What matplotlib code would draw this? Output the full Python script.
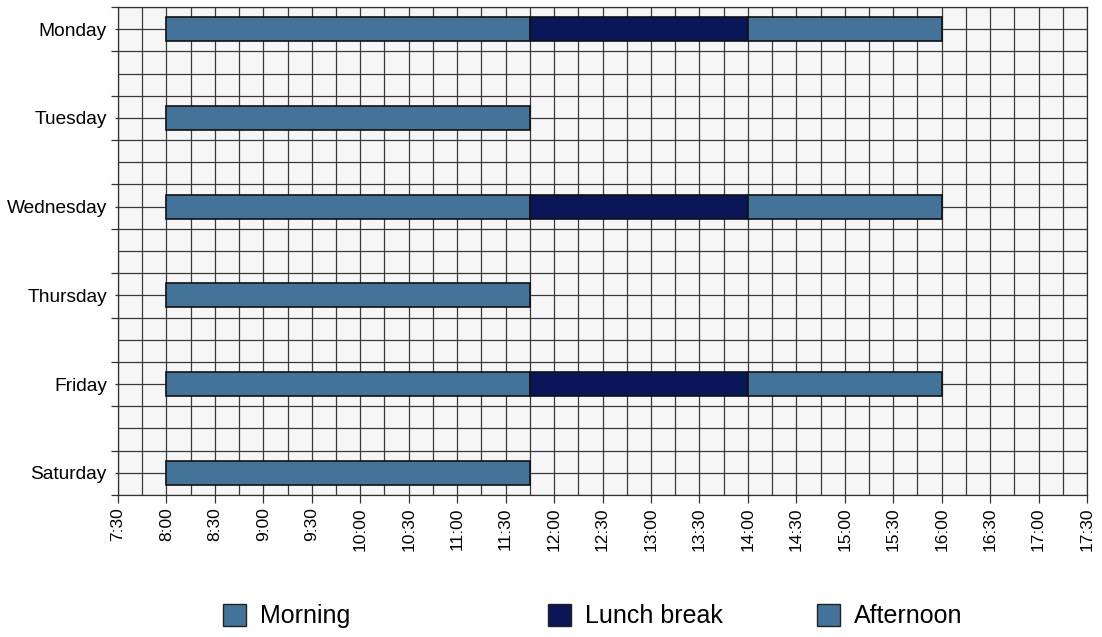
import matplotlib
matplotlib.use("Agg")
import matplotlib.pyplot as plt
from matplotlib.patches import Patch
from matplotlib.ticker import MultipleLocator, FixedLocator

plt.rcParams['font.family'] = ['Liberation Sans', 'DejaVu Sans']

days = ["Monday", "Tuesday", "Wednesday", "Thursday", "Friday", "Saturday"]
# times in hours
morning_start = [8.0, 8.0, 8.0, 8.0, 8.0, 8.0]
morning_end = [11.75, 11.75, 11.75, 11.75, 11.75, 11.75]
lunch_start = [11.75, None, 11.75, None, 11.75, None]
lunch_end = [14.0, None, 14.0, None, 14.0, None]
afternoon_start = [14.0, None, 14.0, None, 14.0, None]
afternoon_end = [16.0, None, 16.0, None, 16.0, None]
series_names = ["Morning", "Lunch break", "Afternoon"]
tick_hours = [7.5 + 0.5 * i for i in range(21)]
tick_labels = [f"{int(h)}:{int(round((h % 1) * 60)):02d}" for h in tick_hours]

c_morning = "#44739a"
c_lunch = "#0b1659"
c_afternoon = "#44739a"

fig = plt.figure(figsize=(11.02, 6.37), dpi=100, facecolor="white")
ax = fig.add_axes([118 / 1102, 1 - 495 / 637, (1087 - 118) / 1102, (495 - 7) / 637])
ax.set_facecolor("#f6f6f6")

bar_h = 0.27
ys = list(range(len(days)))
for i, y in enumerate(ys):
    ax.barh(y, morning_end[i] - morning_start[i], left=morning_start[i], height=bar_h,
            color=c_morning, edgecolor="#111111", linewidth=1.2, zorder=3)
    if lunch_start[i] is not None:
        ax.barh(y, lunch_end[i] - lunch_start[i], left=lunch_start[i], height=bar_h,
                color=c_lunch, edgecolor="#111111", linewidth=1.2, zorder=3)
    if afternoon_start[i] is not None:
        ax.barh(y, afternoon_end[i] - afternoon_start[i], left=afternoon_start[i], height=bar_h,
                color=c_afternoon, edgecolor="#111111", linewidth=1.2, zorder=3)

ax.set_xlim(7.5, 17.5)
ax.set_ylim(len(days) - 1 + 0.25, -0.25)

ax.xaxis.set_major_locator(FixedLocator(tick_hours))
ax.set_xticklabels(tick_labels, rotation=90, fontsize=12.5)
ax.xaxis.set_minor_locator(MultipleLocator(0.25))
ax.tick_params(axis="x", which="major", length=6, width=0.9, color="#333333", pad=3)
ax.tick_params(axis="x", which="minor", length=0)

ax.set_yticks(ys)
ax.set_yticklabels(days, fontsize=13.8)
ax.yaxis.set_minor_locator(FixedLocator([y + d for y in ys for d in (-0.25, 0.25)]))
ax.tick_params(axis="y", which="major", length=2, width=0.9, color="#333333", pad=6)
ax.tick_params(axis="y", which="minor", length=5, width=0.9, color="#333333")

# full grid every 15 min and every quarter day
for xv in [7.5 + 0.25 * k for k in range(41)]:
    ax.axvline(xv, color="#3a3a3a", linewidth=0.9, zorder=1)
for yv in [-0.25 + 0.25 * k for k in range(4 * len(days) + 1)]:
    ax.axhline(yv, color="#3a3a3a", linewidth=0.9, zorder=1)

for s in ax.spines.values():
    s.set_color("#333333")
    s.set_linewidth(0.9)

colors = [c_morning, c_lunch, c_afternoon]
xs = [223 / 1102, 548 / 1102, 817 / 1102]
for name, col, x in zip(series_names, colors, xs):
    leg = fig.legend(handles=[Patch(facecolor=col, edgecolor="#222222", linewidth=1.0, label=name)],
                     loc="center left", bbox_to_anchor=(x, 1 - 616 / 637), frameon=False,
                     fontsize=18, handlelength=0.92, handleheight=0.96, handletextpad=0.55,
                     borderpad=0, borderaxespad=0)

fig.savefig("out.png", dpi=100, facecolor="white")
